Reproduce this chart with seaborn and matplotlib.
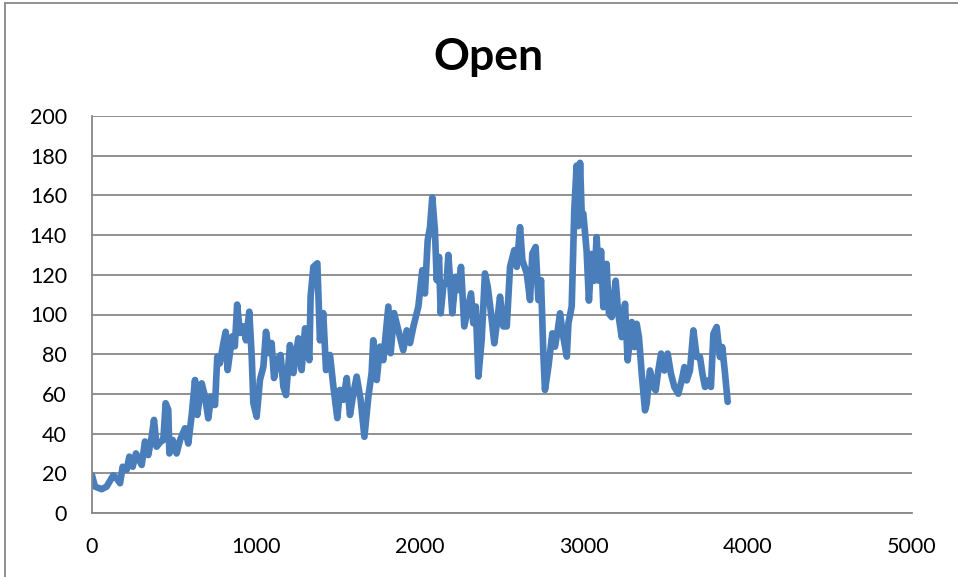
import matplotlib
matplotlib.use("Agg")
import matplotlib.pyplot as plt
import seaborn as sns
import pandas as pd
from matplotlib.lines import Line2D

title = "Open"
x_ticks = [0, 1000, 2000, 3000, 4000, 5000]
y_ticks = [0, 20, 40, 60, 80, 100, 120, 140, 160, 180, 200]

idx = [0, 18, 59, 89, 130, 150, 171, 187, 211, 228,
       248, 268, 303, 323, 343, 364, 378, 394, 419, 435,
       449, 465, 472, 492, 516, 537, 567, 587, 608, 628,
       642, 669, 689, 709, 726, 750, 764, 780, 801, 815,
       827, 855, 871, 885, 902, 923, 939, 959, 974, 984,
       1004, 1024, 1045, 1061, 1081, 1095, 1110, 1130, 1150, 1167,
       1183, 1207, 1228, 1258, 1278, 1299, 1325, 1333, 1350, 1374,
       1390, 1410, 1427, 1451, 1472, 1496, 1512, 1532, 1553, 1573,
       1594, 1614, 1638, 1661, 1685, 1705, 1715, 1736, 1756, 1776,
       1807, 1821, 1842, 1868, 1898, 1919, 1939, 1960, 1990, 2014,
       2030, 2047, 2061, 2075, 2091, 2102, 2116, 2126, 2142, 2163,
       2173, 2197, 2218, 2234, 2250, 2270, 2295, 2311, 2325, 2340,
       2356, 2376, 2396, 2413, 2433, 2453, 2474, 2488, 2508, 2529,
       2549, 2575, 2590, 2610, 2624, 2651, 2671, 2685, 2705, 2722,
       2738, 2752, 2762, 2783, 2807, 2823, 2840, 2854, 2870, 2895,
       2905, 2925, 2941, 2955, 2965, 2976, 2986, 2996, 3016, 3030,
       3047, 3063, 3077, 3091, 3104, 3118, 3138, 3152, 3169, 3193,
       3209, 3230, 3250, 3266, 3291, 3307, 3321, 3335, 3352, 3372,
       3382, 3402, 3423, 3437, 3453, 3470, 3490, 3510, 3530, 3551,
       3575, 3596, 3612, 3626, 3646, 3667, 3687, 3707, 3722, 3738,
       3758, 3774, 3789, 3809, 3829, 3843, 3860, 3876]

open_vals = [19, 13.3, 12, 13.3, 19, 17.5, 15, 23.3, 21.7, 28.4,
             23.3, 30, 24.2, 36, 29.2, 38.5, 46.9, 33.4, 36, 36.7,
             55.3, 52, 30, 36.8, 30, 36.8, 42.7, 35, 49.4, 67,
             49.4, 65.3, 58.6, 47.7, 58.6, 54.4, 78.7, 75.4, 85.5, 91.3,
             72, 89, 84, 105, 90.7, 94, 87, 101.4, 78.7, 55.4,
             48.5, 67, 73.7, 91.3, 80.5, 85.6, 68, 77, 79.6, 63.6,
             59.4, 84.6, 70.5, 88, 72, 93, 77, 109, 124, 125.8,
             87, 100.7, 72, 79.6, 63.6, 47.8, 62, 57, 68, 49.4,
             60.4, 68.7, 57, 38.4, 58.6, 70.5, 87, 67, 83.8, 77,
             104, 80.5, 100.7, 92, 82, 92, 85.6, 94, 104, 122.3,
             110.6, 137.4, 144, 159, 142.4, 117.3, 129, 100.6, 114, 117.3,
             130, 100.6, 119, 112.3, 124, 94, 104, 110.6, 95.6, 104,
             68.8, 87.2, 120.7, 114, 100.6, 85.5, 99, 109, 94, 94,
             124, 132.4, 124, 144, 127.4, 120.7, 107.3, 130.7, 134, 107.3,
             117.3, 80.5, 62, 73.8, 90.5, 83.8, 92.2, 100.6, 90.5, 78.8,
             95.6, 104, 153, 175, 144.5, 176.4, 151, 150.8, 132, 107,
             130.5, 117, 139, 117, 132, 103.7, 125.5, 100.4, 98.7, 117,
             100.4, 88.6, 105.4, 76.9, 96.2, 83.6, 95.3, 88.6, 70.2, 51.7,
             55, 71.8, 63.5, 61.8, 71.8, 80.3, 71.8, 80.3, 70.2, 63.5,
             60.1, 66.8, 73.5, 66.8, 71.8, 92, 78.6, 78.6, 70.2, 63.5,
             66.8, 63.5, 90.3, 93.7, 78.6, 83.6, 70.2, 56]

df = pd.DataFrame({"idx": idx, "Open": open_vals})

sns.set_theme(style="white")
plt.rcParams['font.family'] = ['Lato', 'DejaVu Sans']
plt.rcParams['text.color'] = 'black'

fig = plt.figure(figsize=(9.58, 5.77), dpi=100)
ax = fig.add_axes([92/958, 1 - 513/577, (912-92)/958, (513-116)/577])

sns.lineplot(data=df, x="idx", y="Open", ax=ax, color="#4A7EBB", linewidth=4.8,
             solid_joinstyle="round", solid_capstyle="round")

ax.set_xlim(0, 5000)
ax.set_ylim(0, 200)
ax.set_xticks(x_ticks)
ax.set_yticks(y_ticks)
ax.set_xticklabels([str(t) for t in x_ticks], fontsize=15.5)
ax.set_yticklabels([str(t) for t in y_ticks], fontsize=15.5)
ax.set_xlabel("")
ax.set_ylabel("")
ax.grid(axis="y", color="#888888", linewidth=1.3)
ax.grid(axis="x", visible=False)
ax.set_axisbelow(True)
for s in ["top", "right"]:
    ax.spines[s].set_visible(False)
for s in ["left", "bottom"]:
    ax.spines[s].set_color("#888888")
    ax.spines[s].set_linewidth(1.3)
ax.tick_params(axis="x", direction="out", length=5, width=1.3, color="#888888",
               labelcolor="black", pad=12)
ax.tick_params(axis="y", direction="out", length=6, width=1.3, color="#888888",
               labelcolor="black", pad=12)

fig.text(488/958, 1 - 57/577, title, ha="center", va="center", fontsize=32,
         fontweight="bold", color="black")

fig.add_artist(Line2D([5/958, 5/958], [0, 1 - 3/577], color="#888888", linewidth=1.3))
fig.add_artist(Line2D([5/958, 1], [1 - 3/577, 1 - 3/577], color="#888888", linewidth=1.3))

fig.savefig("out.png", dpi=100)
